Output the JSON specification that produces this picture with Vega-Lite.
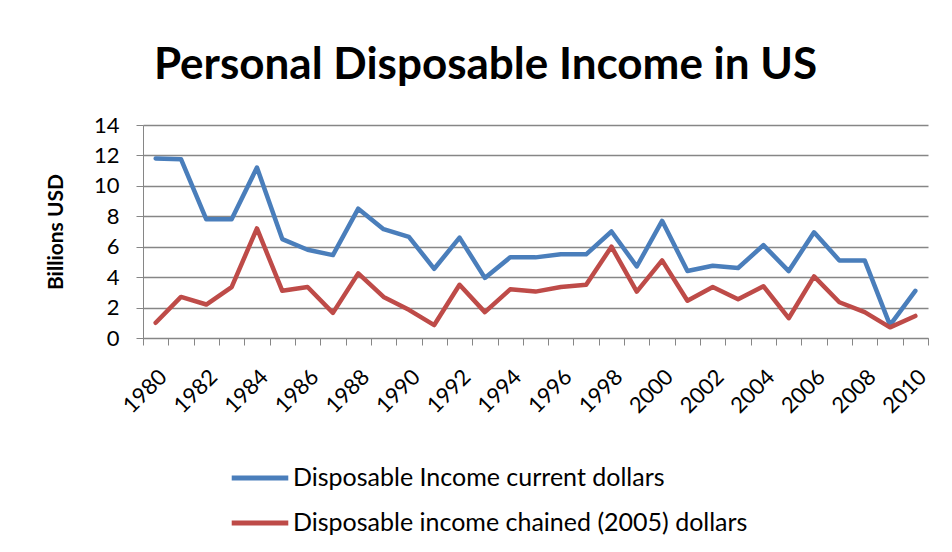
{
  "$schema": "https://vega.github.io/schema/vega-lite/v6.json",
  "autosize": "none",
  "width": 785,
  "height": 213,
  "padding": {"left": 143, "top": 125, "right": 24, "bottom": 214},
  "background": "white",
  "title": {
    "text": "Personal Disposable Income in US",
    "font": "Lato",
    "fontSize": 44,
    "fontWeight": "bold",
    "color": "black",
    "anchor": "middle",
    "dx": -50,
    "offset": 26
  },
  "data": {
    "values": [
      {"year": 1980, "series": "Disposable Income current dollars", "value": 11.8},
      {"year": 1981, "series": "Disposable Income current dollars", "value": 11.75},
      {"year": 1982, "series": "Disposable Income current dollars", "value": 7.8},
      {"year": 1983, "series": "Disposable Income current dollars", "value": 7.8},
      {"year": 1984, "series": "Disposable Income current dollars", "value": 11.2},
      {"year": 1985, "series": "Disposable Income current dollars", "value": 6.5},
      {"year": 1986, "series": "Disposable Income current dollars", "value": 5.8},
      {"year": 1987, "series": "Disposable Income current dollars", "value": 5.45},
      {"year": 1988, "series": "Disposable Income current dollars", "value": 8.5},
      {"year": 1989, "series": "Disposable Income current dollars", "value": 7.15},
      {"year": 1990, "series": "Disposable Income current dollars", "value": 6.65},
      {"year": 1991, "series": "Disposable Income current dollars", "value": 4.55},
      {"year": 1992, "series": "Disposable Income current dollars", "value": 6.6},
      {"year": 1993, "series": "Disposable Income current dollars", "value": 3.95},
      {"year": 1994, "series": "Disposable Income current dollars", "value": 5.3},
      {"year": 1995, "series": "Disposable Income current dollars", "value": 5.3},
      {"year": 1996, "series": "Disposable Income current dollars", "value": 5.5},
      {"year": 1997, "series": "Disposable Income current dollars", "value": 5.5},
      {"year": 1998, "series": "Disposable Income current dollars", "value": 7.0},
      {"year": 1999, "series": "Disposable Income current dollars", "value": 4.7},
      {"year": 2000, "series": "Disposable Income current dollars", "value": 7.7},
      {"year": 2001, "series": "Disposable Income current dollars", "value": 4.4},
      {"year": 2002, "series": "Disposable Income current dollars", "value": 4.75},
      {"year": 2003, "series": "Disposable Income current dollars", "value": 4.6},
      {"year": 2004, "series": "Disposable Income current dollars", "value": 6.1},
      {"year": 2005, "series": "Disposable Income current dollars", "value": 4.4},
      {"year": 2006, "series": "Disposable Income current dollars", "value": 6.95},
      {"year": 2007, "series": "Disposable Income current dollars", "value": 5.1},
      {"year": 2008, "series": "Disposable Income current dollars", "value": 5.1},
      {"year": 2009, "series": "Disposable Income current dollars", "value": 0.85},
      {"year": 2010, "series": "Disposable Income current dollars", "value": 3.1},
      {"year": 1980, "series": "Disposable income chained (2005) dollars", "value": 1.0},
      {"year": 1981, "series": "Disposable income chained (2005) dollars", "value": 2.7},
      {"year": 1982, "series": "Disposable income chained (2005) dollars", "value": 2.2},
      {"year": 1983, "series": "Disposable income chained (2005) dollars", "value": 3.35},
      {"year": 1984, "series": "Disposable income chained (2005) dollars", "value": 7.2},
      {"year": 1985, "series": "Disposable income chained (2005) dollars", "value": 3.1},
      {"year": 1986, "series": "Disposable income chained (2005) dollars", "value": 3.35},
      {"year": 1987, "series": "Disposable income chained (2005) dollars", "value": 1.65},
      {"year": 1988, "series": "Disposable income chained (2005) dollars", "value": 4.25},
      {"year": 1989, "series": "Disposable income chained (2005) dollars", "value": 2.7},
      {"year": 1990, "series": "Disposable income chained (2005) dollars", "value": 1.85},
      {"year": 1991, "series": "Disposable income chained (2005) dollars", "value": 0.85},
      {"year": 1992, "series": "Disposable income chained (2005) dollars", "value": 3.5},
      {"year": 1993, "series": "Disposable income chained (2005) dollars", "value": 1.7},
      {"year": 1994, "series": "Disposable income chained (2005) dollars", "value": 3.2},
      {"year": 1995, "series": "Disposable income chained (2005) dollars", "value": 3.05},
      {"year": 1996, "series": "Disposable income chained (2005) dollars", "value": 3.35},
      {"year": 1997, "series": "Disposable income chained (2005) dollars", "value": 3.5},
      {"year": 1998, "series": "Disposable income chained (2005) dollars", "value": 6.0},
      {"year": 1999, "series": "Disposable income chained (2005) dollars", "value": 3.05},
      {"year": 2000, "series": "Disposable income chained (2005) dollars", "value": 5.1},
      {"year": 2001, "series": "Disposable income chained (2005) dollars", "value": 2.45},
      {"year": 2002, "series": "Disposable income chained (2005) dollars", "value": 3.35},
      {"year": 2003, "series": "Disposable income chained (2005) dollars", "value": 2.55},
      {"year": 2004, "series": "Disposable income chained (2005) dollars", "value": 3.4},
      {"year": 2005, "series": "Disposable income chained (2005) dollars", "value": 1.3},
      {"year": 2006, "series": "Disposable income chained (2005) dollars", "value": 4.05},
      {"year": 2007, "series": "Disposable income chained (2005) dollars", "value": 2.35},
      {"year": 2008, "series": "Disposable income chained (2005) dollars", "value": 1.7},
      {"year": 2009, "series": "Disposable income chained (2005) dollars", "value": 0.7},
      {"year": 2010, "series": "Disposable income chained (2005) dollars", "value": 1.45}
    ]
  },
  "mark": {"type": "line", "strokeWidth": 4.5, "strokeCap": "round", "strokeJoin": "round"},
  "encoding": {
    "x": {
      "field": "year",
      "type": "ordinal",
      "title": null,
      "scale": {"paddingInner": 0, "paddingOuter": 0},
      "axis": {
        "tickBand": "extent",
        "labelAngle": -45,
        "labelExpr": "datum.value % 2 == 0 ? datum.label : ''",
        "labelFont": "Lato",
        "labelFontSize": 22,
        "labelColor": "black",
        "labelPadding": 21,
        "labelDx": -5,
        "labelOverlap": false,
        "domainColor": "#868686",
        "tickColor": "#868686",
        "tickSize": 7,
        "grid": false
      }
    },
    "y": {
      "field": "value",
      "type": "quantitative",
      "title": "Billions USD",
      "scale": {"domain": [0, 14], "nice": false},
      "axis": {
        "values": [0, 2, 4, 6, 8, 10, 12, 14],
        "labelFont": "Lato",
        "labelFontSize": 22,
        "labelColor": "black",
        "labelPadding": 17,
        "titleFont": "Lato",
        "titleFontSize": 21,
        "titleFontWeight": "bold",
        "titleColor": "black",
        "titlePadding": 27,
        "domainColor": "#868686",
        "tickColor": "#868686",
        "tickSize": 7,
        "gridColor": "#868686",
        "gridWidth": 1.3
      }
    },
    "color": {
      "field": "series",
      "type": "nominal",
      "scale": {
        "domain": ["Disposable Income current dollars", "Disposable income chained (2005) dollars"],
        "range": ["#4A7EBB", "#BE4B48"]
      },
      "legend": {
        "title": null,
        "orient": "none",
        "legendX": 86,
        "legendY": 322,
        "symbolType": "stroke",
        "symbolSize": 3200,
        "symbolStrokeWidth": 5,
        "labelFont": "Lato",
        "labelFontSize": 25,
        "labelColor": "black",
        "labelOffset": 2,
        "rowPadding": 1,
        "labelLimit": 700
      }
    }
  },
  "config": {"view": {"stroke": null}}
}
